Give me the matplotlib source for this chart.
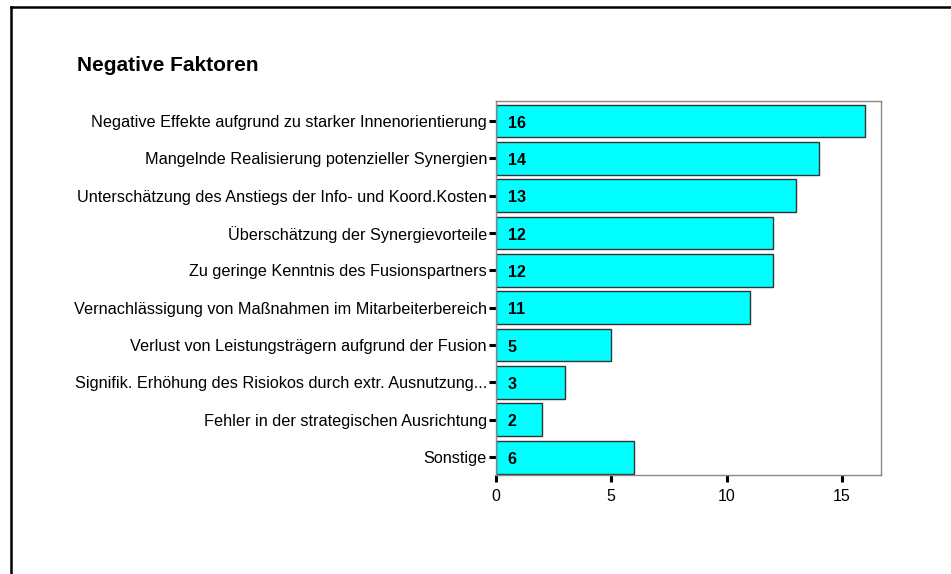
import matplotlib.pyplot as plt
from matplotlib.lines import Line2D

plt.rcParams['font.family'] = ['Liberation Sans', 'DejaVu Sans']

categories = [
    'Negative Effekte aufgrund zu starker Innenorientierung',
    'Mangelnde Realisierung potenzieller Synergien',
    'Unterschätzung des Anstiegs der Info- und Koord.Kosten',
    'Überschätzung der Synergievorteile',
    'Zu geringe Kenntnis des Fusionspartners',
    'Vernachlässigung von Maßnahmen im Mitarbeiterbereich',
    'Verlust von Leistungsträgern aufgrund der Fusion',
    'Signifik. Erhöhung des Risiokos durch extr. Ausnutzung...',
    'Fehler in der strategischen Ausrichtung',
    'Sonstige',
]
counts = [16, 14, 13, 12, 12, 11, 5, 3, 2, 6]
xticks = [0, 5, 10, 15]

W, H = 951, 574
fig = plt.figure(figsize=(W / 100, H / 100), dpi=100)
ax = fig.add_axes([496 / W, 1 - 475 / H, (881 - 496) / W, (475 - 101) / H])

pos = list(range(len(categories)))
ax.barh(pos, counts, height=0.88, color='#00FFFF', edgecolor='#333333', linewidth=1)
for p, c in zip(pos, counts):
    ax.text(0.5, p + 0.06, str(c), va='center', ha='left', fontsize=11.5, fontweight='bold')

ax.set_ylim(9.48, -0.535)
ax.set_xlim(0, 16.7)
ax.set_yticks(pos)
ax.set_yticklabels(categories, fontsize=11.7)
ax.set_xticks(xticks)
ax.set_xticklabels([str(t) for t in xticks], fontsize=11.5)
ax.tick_params(axis='both', direction='out', length=5, width=2.2, color='black', pad=1.5)
ax.tick_params(axis='x', pad=5)
for s in ax.spines.values():
    s.set_color('#888888')
    s.set_linewidth(1)

fig.text(77 / W, 1 - 66 / H, 'Negative Faktoren', fontsize=15, fontweight='bold', va='center', ha='left')

# outer frame (left and top only)
fig.add_artist(Line2D([10.5 / W, 10.5 / W], [0, 1 - 7 / H], transform=fig.transFigure, color='black', linewidth=1.8))
fig.add_artist(Line2D([10.5 / W, 1], [1 - 7 / H, 1 - 7 / H], transform=fig.transFigure, color='black', linewidth=1.8))

fig.savefig('out.png', dpi=100)
